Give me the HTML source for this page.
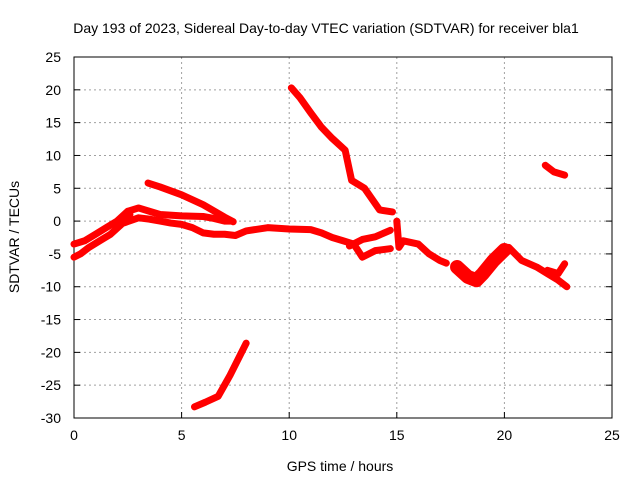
<!DOCTYPE html>
<html><head><meta charset="utf-8"><style>
body{margin:0;background:#fff}
text{font-family:"Liberation Sans",sans-serif;fill:#000}
</style></head><body>
<svg id="chart" width="640" height="480" xmlns="http://www.w3.org/2000/svg">
<rect width="640" height="480" fill="#fff"/>
<text x="326" y="33" font-size="14" text-anchor="middle">Day 193 of 2023, Sidereal Day-to-day VTEC variation (SDTVAR) for receiver bla1</text>
<g id="grid"></g><g id="axes"></g><g id="series"></g>
<text x="340" y="471" font-size="14" text-anchor="middle">GPS time / hours</text>
<text transform="translate(19,237) rotate(-90)" font-size="14" text-anchor="middle">SDTVAR / TECUs</text>
</svg>
<script>
const xTicks=[0,5,10,15,20,25];
const yTicks=[25,20,15,10,5,0,-5,-10,-15,-20,-25,-30];
const segAx=[0,0.3,0.7,1.2,1.7,2.2,2.6];
const segAy=[-5.5,-5,-4,-3,-2,-0.5,1];
const segBx=[0,0.5,1,1.5,2,2.5,3,3.5,4,5,6,6.5,7,7.3];
const segBy=[-3.5,-3,-2,-1,0,1.5,2,1.5,1,0.8,0.7,0.4,0,0];
const segCx=[2.3,3,3.5,4,4.5,5,5.5,6,6.5,7,7.5,8,9,10,11,11.5,12,12.5,13,13.4,14,14.7];
const segCy=[-0.3,0.5,0.3,0,-0.3,-0.5,-1,-1.8,-2,-2,-2.2,-1.5,-1,-1.2,-1.3,-1.8,-2.5,-3,-3.5,-5.5,-4.5,-4.2];
const segDx=[12.8,13.4,14,14.7];
const segDy=[-3.8,-2.8,-2.4,-1.4];
const segEx=[15,15.1,15.3,16,16.5,17,17.3];
const segEy=[0,-4,-3,-3.5,-5,-6,-6.4];
const segFx=[17.8,18.3,18.7,19,19.5,20];
const segFy=[-7,-8.5,-9,-8,-6,-4.4];
const segGx=[20.2,20.8,21.5,22,22.5,22.9];
const segGy=[-4,-6,-7,-8,-9,-10];
const segHx=[22,22.5,22.8];
const segHy=[-7.5,-8,-6.5];
const segIx=[3.44,4,5,6,7,7.4];
const segIy=[5.8,5.2,4,2.5,0.6,-0.1];
const segJx=[10.1,10.5,11,11.5,12,12.6,12.9,13.5,14.2,14.8];
const segJy=[20.3,18.8,16.5,14.3,12.6,10.8,6.2,5,1.7,1.4];
const segKx=[21.9,22.3,22.8];
const segKy=[8.5,7.5,7];
const segLx=[5.6,6.1,6.7,7.25,8.0];
const segLy=[-28.3,-27.6,-26.7,-23.5,-18.6];
const X0=74,X1=612,Y0=57,Y1=418;
const sx=v=>X0+(v-0)/25*(X1-X0);
const sy=v=>Y0+(25-v)/55*(Y1-Y0);
const NS="http://www.w3.org/2000/svg";
function mk(tag,attrs,parent){const e=document.createElementNS(NS,tag);for(const k in attrs)e.setAttribute(k,attrs[k]);parent.appendChild(e);return e;}
const grid=document.getElementById('grid'),axes=document.getElementById('axes'),ser=document.getElementById('series');
xTicks.forEach(t=>{
 if(t>0&&t<25){const l=mk('line',{x1:sx(t),x2:sx(t),y1:Y0,y2:Y1,stroke:'#a0a0a0','stroke-dasharray':'2,3'},grid);
 
 }
 const tk=mk('line',{x1:sx(t),x2:sx(t),y1:Y1,y2:Y1-6,stroke:'#000'},axes);
 
 
 const tt=mk('text',{x:sx(t),y:Y1+22,'font-size':14,'text-anchor':'middle'},axes);tt.textContent=t;
 
 
});
yTicks.forEach(t=>{
 if(t<25&&t>-30){const l=mk('line',{x1:X0,x2:X1,y1:sy(t),y2:sy(t),stroke:'#a0a0a0','stroke-dasharray':'2,3'},grid);
 
 }
 const tk=mk('line',{x1:X0,x2:X0+6,y1:sy(t),y2:sy(t),stroke:'#000'},axes);
 
 
 const tk2=mk('line',{x1:X1,x2:X1-6,y1:sy(t),y2:sy(t),stroke:'#000'},axes);
 
 
 const tt=mk('text',{x:X0-13,y:sy(t)+5,'font-size':14,'text-anchor':'end'},axes);tt.textContent=t;
 
 
});
const fr=mk('rect',{x:X0,y:Y0,width:X1-X0,height:Y1-Y0,fill:'none',stroke:'#000'},axes);


const segs=[[segAx,segAy],[segBx,segBy],[segCx,segCy],[segDx,segDy],[segEx,segEy],[segFx,segFy],[segGx,segGy],[segHx,segHy],[segIx,segIy],[segJx,segJy],[segKx,segKy],[segLx,segLy]];
segs.forEach(([xs,ys],i)=>{
 const pts=xs.map((x,j)=>sx(x)+','+sy(ys[j])).join(' ');
 const p=mk('polyline',{points:pts,fill:'none',stroke:'#ff0000','stroke-width':i===5?14:7,'stroke-linejoin':'round','stroke-linecap':'round'},ser);
 
 
});
</script>
</body></html>
